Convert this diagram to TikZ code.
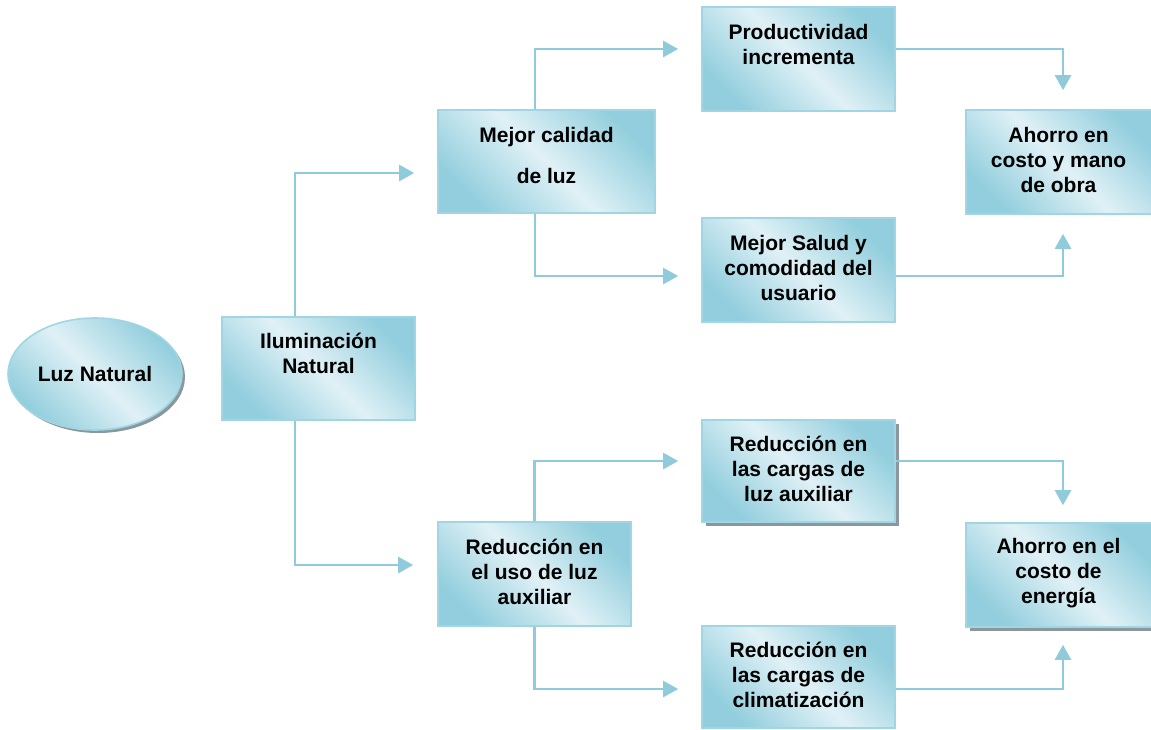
\documentclass[tikz,border=0pt]{standalone}
\usepackage{fontspec}
\setmainfont{Liberation Sans}
\usetikzlibrary{arrows.meta,shadows,calc,shapes.geometric}
\definecolor{boxdark}{RGB}{146,206,221}
\definecolor{boxlight}{RGB}{224,241,246}
\definecolor{boxline}{RGB}{160,214,227}
\definecolor{connline}{RGB}{143,203,218}
\definecolor{shadowgray}{RGB}{138,152,158}
\begin{document}
\begin{tikzpicture}[x=1pt,y=-1pt,
  box/.style={draw=boxline, line width=1.6pt, rectangle, inner sep=0pt,
    top color=boxdark, bottom color=boxdark, middle color=boxlight, shading angle=-45},
  shbox/.style={box, drop shadow={shadow xshift=3.5pt, shadow yshift=-4pt, fill=shadowgray, opacity=1}},
  txt/.style={align=center, font=\fontsize{21}{25}\selectfont\bfseries, inner sep=0pt},
  conn/.style={draw=connline, line width=2.4pt, -{Triangle[length=15pt,width=16pt]}},
]
\useasboundingbox (0,0) rectangle (1151,729);

% nodes
\node[box, ellipse, minimum width=174pt, minimum height=112pt,
  drop shadow={shadow xshift=3pt, shadow yshift=-3pt, fill=shadowgray, opacity=1}] (luz) at (95,374) {};
\node[txt] (luzT) at (luz.center) {Luz Natural};

\node[box, minimum width=193pt, minimum height=103pt] (ilum) at (318.5,368.5) {};
\node[txt] (ilumT) at ([yshift=15pt]ilum.center) {Iluminación\\Natural};

\node[box, minimum width=217pt, minimum height=103pt] (mejor) at (546.5,161.5) {};
\node[txt] (mejorT) at ([yshift=6pt]mejor.center) {Mejor calidad\\[16pt]de luz};

\node[box, minimum width=193pt, minimum height=104pt] (prod) at (798.5,59) {};
\node[txt] (prodT) at ([yshift=15pt]prod.center) {Productividad\\incrementa};

\node[box, minimum width=193pt, minimum height=104pt] (salud) at (798.5,270) {};
\node[txt] (saludT) at ([yshift=2pt]salud.center) {Mejor Salud y\\comodidad del\\usuario};

\node[box, minimum width=190pt, minimum height=104pt] (ah1) at (1061,162) {};
\node[txt] (ah1T) at ([xshift=-2.5pt,yshift=2pt]ah1.center) {Ahorro en\\costo y mano\\de obra};

\node[box, minimum width=193pt, minimum height=104pt] (reduso) at (534.5,574) {};
\node[txt] (redusoT) at ([yshift=2pt]reduso.center) {Reducción en\\el uso de luz\\auxiliar};

\node[shbox, minimum width=193pt, minimum height=102pt] (redaux) at (798.5,471) {};
\node[txt] (redauxT) at ([yshift=2pt]redaux.center) {Reducción en\\las cargas de\\luz auxiliar};

\node[box, minimum width=193pt, minimum height=102pt] (clim) at (798.5,677) {};
\node[txt] (climT) at ([yshift=2pt]clim.center) {Reducción en\\las cargas de\\climatización};

\node[shbox, minimum width=190pt, minimum height=104pt] (ah2) at (1061,575) {};
\node[txt] (ah2T) at ([xshift=-2.5pt,yshift=2pt]ah2.center) {Ahorro en el\\costo de\\energía};

% connectors
\draw[conn] ([xshift=-23.5pt]ilum.north) |- ([xshift=-23pt,yshift=-11.5pt]mejor.west);
\draw[conn] ([xshift=-23.5pt]ilum.south) |- ([xshift=-24pt,yshift=9pt]reduso.west);
\draw[conn] ([xshift=-11.5pt]mejor.north) |- ([xshift=-23pt,yshift=10pt]prod.west);
\draw[conn] ([xshift=-11.5pt]mejor.south) |- ([xshift=-23pt,yshift=-6pt]salud.west);
\draw[conn] ([yshift=10pt]prod.east) -| ([xshift=2pt,yshift=19pt]ah1.north);
\draw[conn] ([yshift=-6pt]salud.east) -| ([xshift=2pt,yshift=-19pt]ah1.south);
\draw[conn] (reduso.north) |- ([xshift=-23pt,yshift=10pt]redaux.west);
\draw[conn] (reduso.south) |- ([xshift=-23pt,yshift=-12pt]clim.west);
\draw[conn] ([yshift=10pt]redaux.east) -| ([xshift=2pt,yshift=17pt]ah2.north);
\draw[conn] ([yshift=-12pt]clim.east) -| ([xshift=2pt,yshift=-17pt]ah2.south);
\end{tikzpicture}
\end{document}
